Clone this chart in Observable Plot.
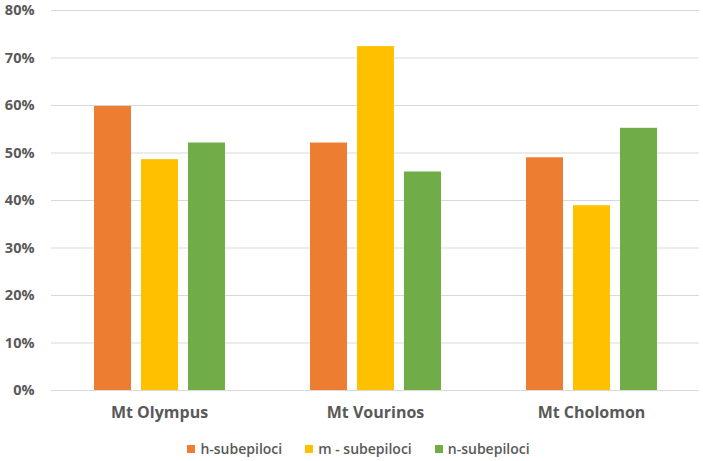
<!DOCTYPE html>
<html>
<head>
<meta charset="utf-8">
<script src="https://cdn.jsdelivr.net/npm/d3@7"></script>
<script src="https://cdn.jsdelivr.net/npm/@observablehq/plot@0.6"></script>
<style>
  html, body { margin: 0; padding: 0; background: #fff; }
  #chart { width: 703px; }
  .legend { display: flex; justify-content: center; gap: 23px; margin-top: 14px; margin-left: 14px;
    font-family: "Open Sans", "Noto Sans", sans-serif; font-size: 14px; color: #595959; font-weight: 600; }
  .legend span.item { display: inline-flex; align-items: center; }
  .legend span.sw { width: 8px; height: 8px; display: inline-block; margin-right: 5px; }
</style>
</head>
<body>
<div id="chart"></div>
<script>
const sites = ["Mt Olympus", "Mt Vourinos", "Mt Cholomon"];
const series = ["h-subepiloci", "m - subepiloci", "n-subepiloci"];
const hVals = [0.598, 0.521, 0.490];
const mVals = [0.486, 0.724, 0.389];
const nVals = [0.521, 0.460, 0.552];
const colors = ["#ED7D31", "#FFC000", "#70AD47"];
const yTicks = [0, 0.1, 0.2, 0.3, 0.4, 0.5, 0.6, 0.7, 0.8];

const valueSets = [hVals, mVals, nVals];
const data = [];
sites.forEach((s, i) => series.forEach((k, j) => data.push({site: s, series: k, value: valueSets[j][i]})));

const chart = Plot.plot({
  width: 703,
  height: 425,
  marginTop: 10,
  marginBottom: 35,
  marginLeft: 50,
  marginRight: 3,
  style: {fontFamily: "'Open Sans', 'Noto Sans', sans-serif", color: "#595959", background: "#fff"},
  fx: {domain: sites, padding: 0, label: null, axis: "bottom", tickSize: 0, tickPadding: 16},
  x: {domain: series, paddingInner: 0.22, paddingOuter: 0.867, axis: null},
  y: {domain: [0, 0.8], ticks: yTicks, tickFormat: d3.format(".0%"), label: null, tickSize: 0, tickPadding: 17},
  color: {domain: series, range: colors},
  marks: [
    Plot.ruleY(yTicks, {stroke: "#d9d9d9", strokeWidth: 1}),
    Plot.barY(data, {fx: "site", x: "series", y: "value", fill: "series"})
  ]
});
chart.querySelectorAll("g[aria-label='y-axis tick label'] text, g[aria-label='y-axis tick label']").forEach(t => {
  t.setAttribute("font-size", "14.5");
  t.setAttribute("font-weight", "bold");
});
chart.querySelectorAll("g[aria-label='fx-axis tick label'], g[aria-label='fx-axis tick label'] text").forEach(t => {
  t.setAttribute("font-size", "16");
  t.setAttribute("font-weight", "bold");
});
document.getElementById("chart").appendChild(chart);

const legend = document.createElement("div");
legend.className = "legend";
series.forEach((s, i) => {
  const item = document.createElement("span");
  item.className = "item";
  const sw = document.createElement("span");
  sw.className = "sw";
  sw.style.background = colors[i];
  item.appendChild(sw);
  item.appendChild(document.createTextNode(s));
  legend.appendChild(item);
});
document.getElementById("chart").appendChild(legend);
</script>
</body>
</html>
